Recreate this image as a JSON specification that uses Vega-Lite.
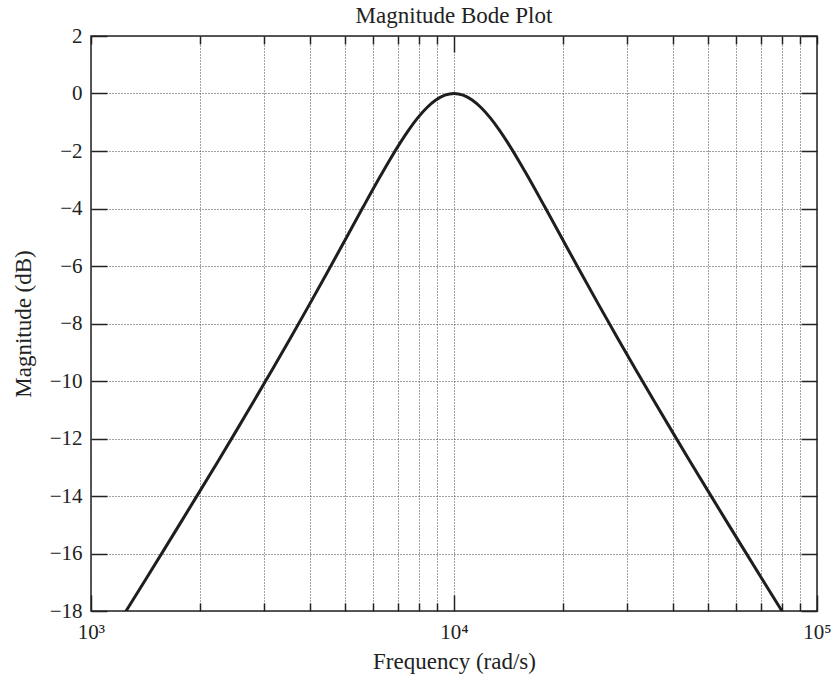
{
  "$schema": "https://vega.github.io/schema/vega-lite/v6.json",
  "width": 726,
  "height": 575,
  "autosize": "none",
  "padding": {"left": 91, "top": 36, "right": 22, "bottom": 67},
  "background": "white",
  "config": {
    "view": {"stroke": "#222", "strokeWidth": 1.5},
    "font": "Liberation Serif",
    "axis": {"labelFont": "Liberation Serif", "titleFont": "Liberation Serif", "labelColor": "#222", "titleColor": "#222", "titleFontWeight": "normal", "labelFontSize": 21, "titleFontSize": 23}
  },
  "title": {"text": "Magnitude Bode Plot", "fontSize": 23, "font": "Liberation Serif", "fontWeight": "normal", "offset": -3, "color": "#222"},
  "data": {"values": [
    {"x": 1122, "y": -18.946}, {"x": 1259, "y": -17.932}, {"x": 1413, "y": -16.914}, {"x": 1585, "y": -15.892},
    {"x": 1778, "y": -14.865}, {"x": 1995, "y": -13.831}, {"x": 2239, "y": -12.788}, {"x": 2512, "y": -11.735},
    {"x": 2818, "y": -10.670}, {"x": 3162, "y": -9.590}, {"x": 3548, "y": -8.494}, {"x": 3981, "y": -7.378},
    {"x": 4467, "y": -6.244}, {"x": 5012, "y": -5.095}, {"x": 5623, "y": -3.942}, {"x": 6310, "y": -2.810},
    {"x": 6683, "y": -2.267}, {"x": 7079, "y": -1.751}, {"x": 7499, "y": -1.273}, {"x": 7943, "y": -0.849},
    {"x": 8414, "y": -0.494}, {"x": 8913, "y": -0.225}, {"x": 9441, "y": -0.057}, {"x": 10000, "y": 0},
    {"x": 10593, "y": -0.057}, {"x": 11220, "y": -0.225}, {"x": 11885, "y": -0.494}, {"x": 12589, "y": -0.849},
    {"x": 13335, "y": -1.273}, {"x": 14125, "y": -1.751}, {"x": 14962, "y": -2.267}, {"x": 15849, "y": -2.810},
    {"x": 17783, "y": -3.942}, {"x": 19953, "y": -5.095}, {"x": 22387, "y": -6.244}, {"x": 25119, "y": -7.378},
    {"x": 28184, "y": -8.494}, {"x": 31623, "y": -9.590}, {"x": 35481, "y": -10.670}, {"x": 39811, "y": -11.735},
    {"x": 44668, "y": -12.788}, {"x": 50119, "y": -13.831}, {"x": 56234, "y": -14.865}, {"x": 63096, "y": -15.892},
    {"x": 70795, "y": -16.914}, {"x": 79433, "y": -17.932}, {"x": 89125, "y": -18.946}
  ]},
  "resolve": {"axis": {"x": "independent", "y": "independent"}},
  "layer": [
    {
      "mark": {"type": "line", "clip": true, "interpolate": "monotone", "color": "#1e1e1e", "strokeWidth": 3},
      "encoding": {
        "x": {"field": "x", "type": "quantitative",
          "scale": {"type": "log", "domain": [1000, 100000], "nice": false},
          "axis": {"orient": "bottom", "title": "Frequency (rad/s)", "titlePadding": 0,
            "values": [1000,2000,3000,4000,5000,6000,7000,8000,9000,10000,20000,30000,40000,50000,60000,70000,80000,90000,100000],
            "labelExpr": "datum.value == 1000 ? '10³' : datum.value == 10000 ? '10⁴' : datum.value == 100000 ? '10⁵' : ''",
            "domain": false, "grid": true, "gridDash": [1, 2], "gridColor": "#444", "gridWidth": 1,
            "tickColor": "#222", "tickWidth": 1.5,
            "tickSize": {"condition": {"test": "datum.value == 1000 || datum.value == 10000 || datum.value == 100000", "value": -16}, "value": -8},
            "labelPadding": 26, "labelFlush": false, "labelOverlap": false}
        },
        "y": {"field": "y", "type": "quantitative",
          "scale": {"domain": [-18, 2], "nice": false, "zero": false},
          "axis": {"orient": "left", "title": "Magnitude (dB)", "titlePadding": 14,
            "values": [-18,-16,-14,-12,-10,-8,-6,-4,-2,0,2],
            "domain": false, "grid": true, "gridDash": [1, 2], "gridColor": "#444", "gridWidth": 1,
            "tickColor": "#222", "tickWidth": 1.5, "tickSize": -16, "labelPadding": 25}
        }
      }
    },
    {
      "mark": {"type": "line", "clip": true, "opacity": 0},
      "encoding": {
        "x": {"field": "x", "type": "quantitative",
          "scale": {"type": "log", "domain": [1000, 100000], "nice": false},
          "axis": {"orient": "top", "title": null, "labels": false, "grid": false, "domain": false,
            "values": [1000,2000,3000,4000,5000,6000,7000,8000,9000,10000,20000,30000,40000,50000,60000,70000,80000,90000,100000],
            "tickColor": "#222", "tickWidth": 1.5,
            "tickSize": {"condition": {"test": "datum.value == 10000", "value": -16}, "value": -8}}
        },
        "y": {"field": "y", "type": "quantitative",
          "scale": {"domain": [-18, 2], "nice": false, "zero": false},
          "axis": {"orient": "right", "title": null, "labels": false, "grid": false, "domain": false,
            "values": [-18,-16,-14,-12,-10,-8,-6,-4,-2,0,2],
            "tickColor": "#222", "tickWidth": 1.5, "tickSize": -16}
        }
      }
    }
  ]
}
